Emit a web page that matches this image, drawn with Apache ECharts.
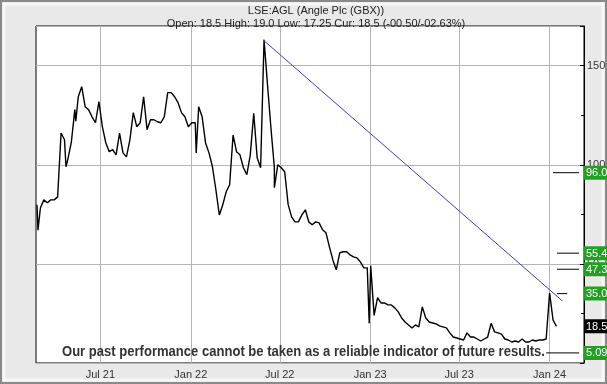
<!DOCTYPE html>
<html>
<head>
<meta charset="utf-8">
<script src="https://cdn.jsdelivr.net/npm/echarts@6/dist/echarts.min.js"></script>
<style>html,body{margin:0;padding:0;background:#ebebeb}#c{width:607px;height:384px}</style>
</head>
<body>
<div id="c"></div>
<script>
// ---- data ----
const titleText = 'LSE:AGL (Angle Plc (GBX))';
const subText = 'Open: 18.5 High: 19.0 Low: 17.25 Cur: 18.5 (-00.50/-02.63%)';
const disclaimer = 'Our past performance cannot be taken as a reliable indicator of future results.';

// weekly closes, first week starting 2021-02-22
const priceStart = [2021, 1, 22];
const weeklyPrice = [
  79.8, 78.3, 82.3, 80.8, 82.3, 82.3, 83.8, 116, 112.6, 103,
  111.6, 127.8, 134.3, 139.4, 129.3, 127.8, 124.2, 121.2, 131.8, 119.2,
  111.1, 106.6, 107.6, 105, 116, 106, 104, 112.6, 126.3, 119.2,
  121.2, 134.3, 117.7, 122.7, 122.7, 121.7, 121.2, 124.2, 136.4, 136.4,
  134.3, 131.3, 126.3, 124.2, 119.2, 121.2, 121.2, 129.3, 124.2, 111,
  106, 99, 87.4, 74.7, 79.8, 86.4, 89.9, 115, 106.6, 105,
  98.5, 95, 105, 126, 103.5, 98.5, 163, 140.4, 118.7, 98.5,
  100, 98.5, 96.5, 80, 73.7, 71.2, 71.2, 74.7, 77.3, 71.2,
  69.7, 71.2, 70.7, 67.2, 65.7, 58.6, 52, 47, 55.6, 56.1,
  56.1, 54.5, 53.5, 53, 51, 48, 48, 49, 24, 33,
  30.3, 30.3, 29.3, 29.3, 27.8, 25.8, 22.7, 20.7, 19.2, 17.7,
  19.2, 18.2, 28.3, 22.7, 20.7, 20.2, 19.7, 18.7, 18.2, 17.7,
  15.2, 13.1, 12.6, 12.1, 11.6, 15.2, 13.1, 13.1, 12.1, 11.1,
  12.1, 13.1, 20, 15.7, 15.2, 14.6, 12.1, 11.6, 10.6, 11.1,
  10.6, 12.1, 10.6, 10.6, 11.6, 11.1, 11.6, 11.6, 12.1, 35.4,
  21.7, 18.5
];
// single-day spikes read between the weekly points
const spikeDates = ['2021-02-24', '2021-04-22', '2021-05-12', '2022-01-12', '2022-06-20', '2022-12-30'];
const spikeValues = [67, 99, 122, 106, 88.4, 20];

const trendDates = ['2022-05-28', '2024-01-27'];
const trendValues = [163, 31.3];

const levelValues = [96.0, 55.4, 47.3, 35.0, 5.09];
const levelLabels = ['96.0', '55.4', '47.3', '35.0', '5.09'];
const levelStart = ['2024-01-08', '2024-01-16', '2024-01-16', '2024-01-16', '2023-12-25'];
const levelEnd = ['2024-03-01', '2024-03-01', '2024-03-01', '2024-02-06', '2024-03-01'];
const currentValue = 18.5;
const currentLabel = '18.5';

const xTickDates = ['2021-07-01', '2022-01-01', '2022-07-01', '2023-01-01', '2023-07-01', '2024-01-01'];
const xMin = '2021-02-20';
const xMax = '2024-03-11';
const yTickLabels = [50, 100, 150];
const monthNames = ['Jan','Feb','Mar','Apr','May','Jun','Jul','Aug','Sep','Oct','Nov','Dec'];

// ---- build ----
const ts = s => { const p = s.split('-').map(Number); return new Date(p[0], p[1] - 1, p[2]).getTime(); };
const priceData = weeklyPrice.map((v, i) => [new Date(priceStart[0], priceStart[1], priceStart[2] + 7 * i).getTime(), v])
  .concat(spikeDates.map((d, i) => [ts(d), spikeValues[i]]))
  .sort((a, b) => a[0] - b[0]);
const xTicks = xTickDates.map(ts);

const levelSeries = levelValues.map((v, i) => ({
  type: 'line', silent: true, symbol: 'none', z: 4,
  data: [[ts(levelStart[i]), v], [ts(levelEnd[i]), v]],
  lineStyle: { color: '#000', width: 1 }
}));

const rightLabelVals = levelValues.concat([currentValue]);
const rightLabelTxt = levelLabels.concat([currentLabel]);

// disclaimer: narrow bold face emulated by horizontal scaling
const DISC_FONT = 'bold 15px "Liberation Sans", Arial, sans-serif';
const DISC_WIDTH = 483;
const mctx = document.createElement('canvas').getContext('2d');
mctx.font = DISC_FONT;
const discScale = DISC_WIDTH / mctx.measureText(disclaimer).width;

const chart = echarts.init(document.getElementById('c'), null, { renderer: 'canvas' });
const FONT = '"Liberation Sans", Arial, sans-serif';
chart.setOption({
  animation: false,
  backgroundColor: '#e9e9e9',
  textStyle: { fontFamily: FONT },
  title: [
    { text: titleText, left: 311, top: 0, textAlign: 'center',
      textStyle: { fontSize: 11, fontWeight: 'normal', color: '#222', fontFamily: FONT } },
    { text: subText, left: 311, top: 13, textAlign: 'center',
      textStyle: { fontSize: 11, fontWeight: 'normal', color: '#222', fontFamily: FONT } }
  ],
  grid: { left: 36, right: 23, top: 26, bottom: 21, show: true, backgroundColor: '#fff', borderColor: '#000', borderWidth: 1,
    containLabel: false, outerBoundsMode: 'none' },
  xAxis: {
    type: 'value', min: ts(xMin), max: ts(xMax), scale: true,
    axisLine: { show: false },
    axisTick: { show: false, customValues: xTicks },
    splitLine: { show: true, lineStyle: { color: '#b4b4b4', width: 1 } },
    axisLabel: {
      customValues: xTicks, color: '#333', fontSize: 11, margin: 6, fontFamily: FONT,
      formatter: v => { const d = new Date(v); return monthNames[d.getMonth()] + ' ' + String(d.getFullYear()).slice(2); }
    }
  },
  yAxis: [
    {
      type: 'value', position: 'right', min: 0, max: 170, interval: 50,
      axisLine: { show: true, lineStyle: { color: '#000' } },
      axisTick: { show: true, inside: true, length: 4, lineStyle: { color: '#000' } },
      minorTick: { show: true, splitNumber: 2, length: 3, lineStyle: { color: '#000' } },
      splitLine: { show: true, lineStyle: { color: '#b4b4b4', width: 1 } },
      axisLabel: { color: '#333', fontSize: 11, margin: 3, fontFamily: FONT,
        formatter: v => yTickLabels.indexOf(v) >= 0 ? String(v) : '' }
    },
    {
      type: 'value', position: 'right', min: 0, max: 170,
      axisLine: { show: false }, axisTick: { show: false }, splitLine: { show: false },
      axisLabel: {
        customValues: rightLabelVals, margin: 0, fontFamily: FONT,
        formatter: v => {
          const i = rightLabelVals.indexOf(v);
          return (v === currentValue ? '{b|' : '{g|') + rightLabelTxt[i] + '}';
        },
        rich: {
          g: { backgroundColor: '#22a022', color: '#fff', fontSize: 11, padding: [2, 6, 1, 2], width: 30, fontFamily: FONT },
          b: { backgroundColor: '#000', color: '#fff', fontSize: 11, padding: [2, 6, 1, 2], width: 30, fontFamily: FONT }
        }
      }
    }
  ],
  graphic: [
    { type: 'rect', shape: { x: 4, y: 4, width: 599, height: 376 }, style: { fill: null, stroke: '#f7f7f7', lineWidth: 3 }, silent: true },
    { type: 'rect', shape: { x: 1, y: 1, width: 605, height: 382 }, style: { fill: null, stroke: '#8a8a8a', lineWidth: 2 }, silent: true },
    { type: 'text', x: 62, y: 344, scaleX: discScale, z: 100,
      style: { text: disclaimer, fill: '#333', font: DISC_FONT } }
  ],
  series: [
    { type: 'line', name: 'AGL', symbol: 'none', z: 3, data: priceData,
      lineStyle: { color: '#000', width: 1.4 } },
    { type: 'line', name: 'trend', symbol: 'none', z: 4, silent: true,
      data: trendDates.map((d, i) => [ts(d), trendValues[i]]),
      lineStyle: { color: '#3c3ccc', width: 1 } }
  ].concat(levelSeries)
});
</script>
</body>
</html>
